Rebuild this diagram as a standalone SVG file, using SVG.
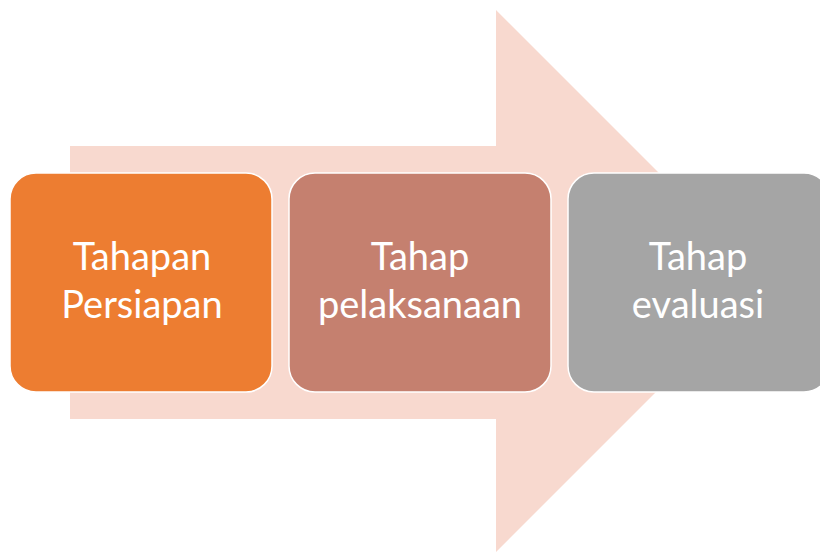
<svg xmlns="http://www.w3.org/2000/svg" width="820" height="554" viewBox="0 0 820 554">
<style>
.box{stroke:#ffffff;stroke-width:1.5}
.lbl{font-family:Lato,"Open Sans","Liberation Sans",sans-serif;font-size:38px;fill:#ffffff;text-anchor:middle}
</style>
<rect width="820" height="554" fill="#ffffff"/>
<g id="arrow">
<polygon points="70,146 496,146 496,10 767,281 496,552 496,419 70,419" fill="#F8D9CF"/>
</g>
<g id="node1">
<rect class="box" x="10" y="173" width="262" height="219" rx="26" fill="#ED7D31"/>
<text class="lbl" x="142" y="270">Tahapan</text>
<text class="lbl" x="142" y="318">Persiapan</text>
</g>
<g id="node2">
<rect class="box" x="289" y="173" width="262" height="219" rx="26" fill="#C5806F"/>
<text class="lbl" x="420" y="270">Tahap</text>
<text class="lbl" x="420" y="318">pelaksanaan</text>
</g>
<g id="node3">
<rect class="box" x="568" y="173" width="262" height="219" rx="26" fill="#A5A5A5"/>
<text class="lbl" x="698" y="270">Tahap</text>
<text class="lbl" x="698" y="318">evaluasi</text>
</g>
<g id="connectors"></g>
</svg>
